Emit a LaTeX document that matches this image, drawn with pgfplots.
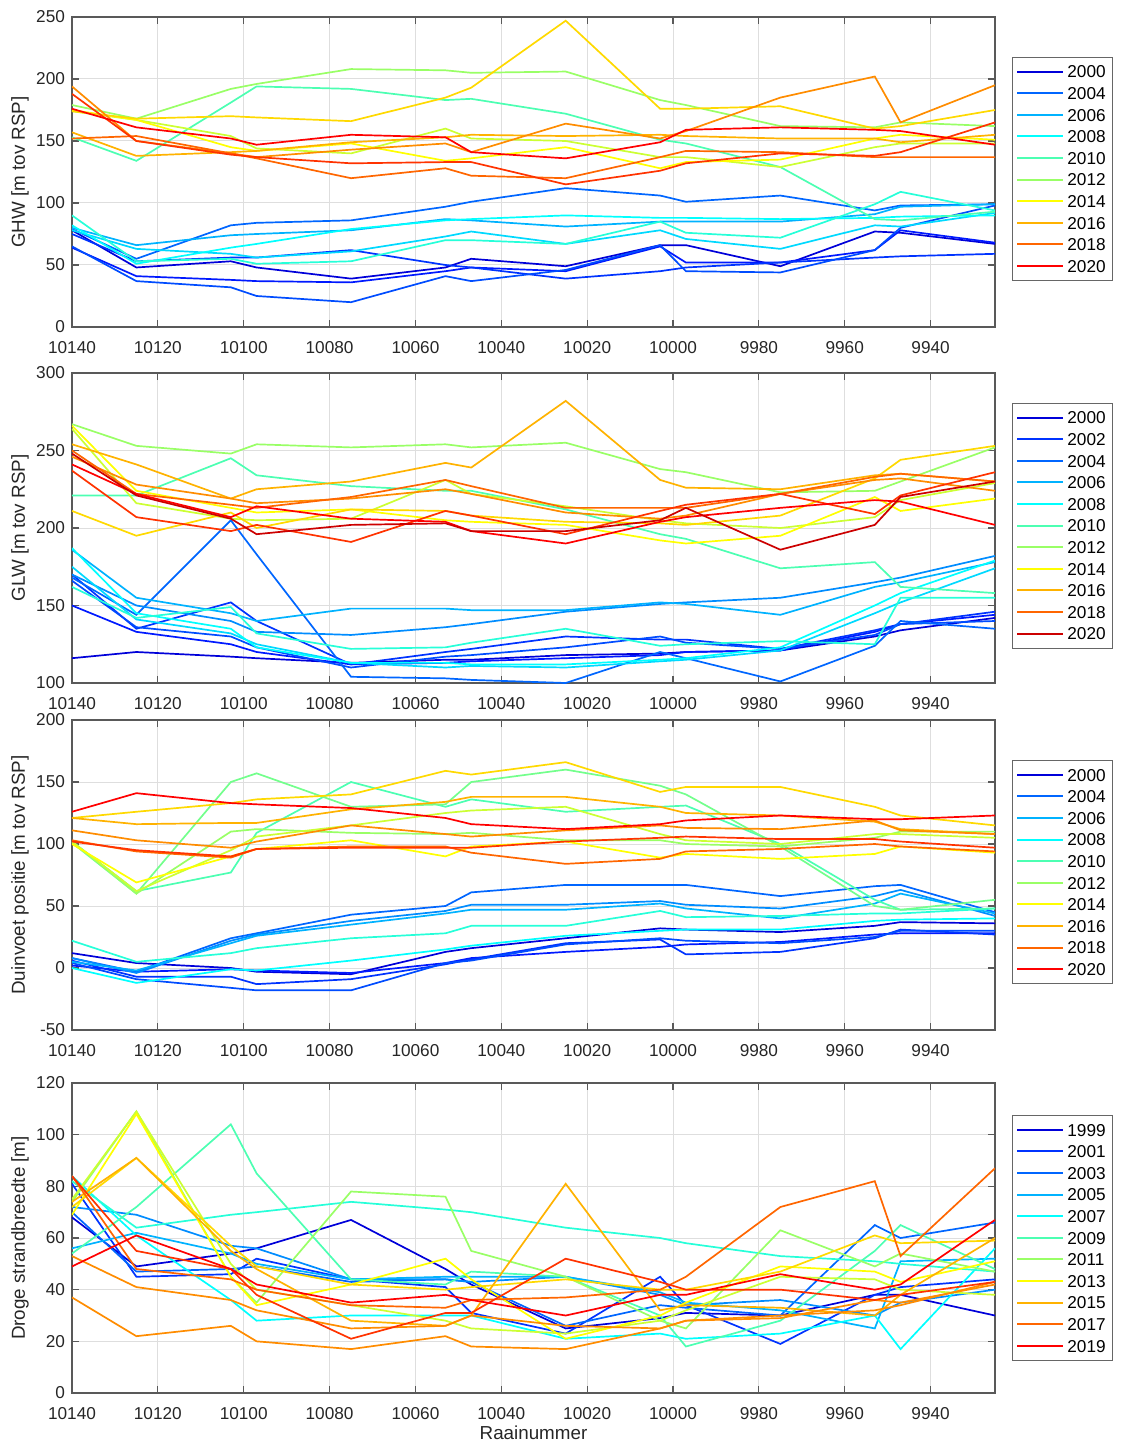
\documentclass[border=0pt]{standalone}
\usepackage{fontspec}
\setmainfont{Liberation Sans}
\usepackage{pgfplots}
\usepackage{pgfplotstable}
\pgfplotsset{compat=1.18}

% jet-like colour ramp, index 0 (dark blue) .. 20 (red)
\definecolor{c0}{rgb}{0,0,0.85}
\definecolor{c1}{rgb}{0,0.1,1}
\definecolor{c2}{rgb}{0,0.2,1}
\definecolor{c3}{rgb}{0,0.3,1}
\definecolor{c4}{rgb}{0,0.4,1}
\definecolor{c5}{rgb}{0,0.55,1}
\definecolor{c6}{rgb}{0,0.7,1}
\definecolor{c7}{rgb}{0,0.85,1}
\definecolor{c8}{rgb}{0,1,1}
\definecolor{c9}{rgb}{0.15,1,0.85}
\definecolor{c10}{rgb}{0.3,1,0.7}
\definecolor{c11}{rgb}{0.45,1,0.55}
\definecolor{c12}{rgb}{0.6,1,0.4}
\definecolor{c13}{rgb}{0.8,1,0.2}
\definecolor{c14}{rgb}{1,1,0}
\definecolor{c15}{rgb}{1,0.85,0}
\definecolor{c16}{rgb}{1,0.7,0}
\definecolor{c17}{rgb}{1,0.55,0}
\definecolor{c18}{rgb}{1,0.4,0}
\definecolor{c19}{rgb}{1,0.2,0}
\definecolor{c20}{rgb}{1,0,0}
\definecolor{c21}{rgb}{0.8,0,0}

% one row per year, one column per raai
\pgfplotstableread{
s     10140 10125 10103 10097 10075 10053 10047 10025 10003 9997 9975 9953 9947 9925
a2000 78 48 53 48 39 48 55 49 66 66 49 77 76 67
a2001 64 41 38 37 36 45 48 45 65 52 52 62 78 68
a2002 75 53 56 56 62 50 48 39 45 48 52 56 57 59
a2003 65 37 32 25 20 41 37 46 66 45 44 62 80 98
a2004 79 55 82 84 86 97 101 112 106 101 106 94 98 99
a2006 80 66 74 75 78 87 86 81 85 85 85 91 97 99
a2007 78 63 59 56 61 73 77 67 78 71 63 82 81 92
a2008 82 51 64 67 79 86 87 90 88 88 87 88 89 90
a2009 90 53 55 51 53 70 70 67 85 76 72 99 109 94
a2010 153 134 181 194 192 183 184 172 151 148 129 87 86 93
a2012 179 168 192 196 208 207 205 206 183 179 162 161 165 162
a2013 174 167 154 144 140 160 152 150 137 137 129 145 148 148
a2014 175 167 145 142 148 134 136 145 128 133 135 152 155 151
a2015 174 168 170 169 166 185 193 247 176 176 178 160 162 175
a2016 157 138 141 142 149 153 155 154 155 154 152 152 149 155
a2017 194 150 140 137 143 148 141 164 152 158 185 202 165 195
a2018 152 154 140 136 120 128 122 120 137 142 141 137 137 137
a2019 188 150 139 137 132 133 133 115 126 132 140 138 141 165
a2020 176 161 152 147 155 153 141 136 149 159 161 159 158 147
}\ghwrows
\pgfplotstableread{
s     10140 10125 10103 10097 10075 10053 10047 10025 10003 9997 9975 9953 9947 9925
a2000 116 120 117 116 113 115 115 118 119 120 121 130 134 142
a2001 150 133 125 120 112 113 114 116 118 120 121 133 138 144
a2002 170 135 152 140 112 120 122 130 128 128 122 134 138 146
a2003 166 136 130 123 110 117 118 123 130 126 122 131 138 140
a2004 168 144 205 183 104 103 102 100 120 116 101 124 140 135
a2005 170 150 140 133 131 136 138 146 151 152 155 165 168 182
a2006 186 155 145 140 148 148 147 147 152 151 144 162 165 178
a2007 175 141 132 125 113 110 111 110 114 115 121 145 152 174
a2008 187 145 135 123 113 113 112 112 115 116 123 150 158 179
a2009 162 142 149 132 122 123 126 135 124 125 127 125 155 155
a2010 221 221 245 234 227 224 224 212 196 193 174 178 162 158
a2012 267 253 248 254 252 254 252 255 238 236 223 224 230 252
a2013 264 216 206 205 206 231 222 214 205 203 200 207 218 229
a2014 266 224 213 210 212 205 204 202 192 190 195 220 211 219
a2015 211 195 210 200 212 211 208 204 203 202 208 232 244 253
a2016 254 241 219 225 230 242 239 282 231 226 225 234 235 230
a2017 246 228 219 216 219 225 222 210 206 208 222 231 232 224
a2018 250 222 215 213 220 231 227 213 213 213 222 233 235 230
b2019 237 207 198 202 191 211 208 196 211 215 222 209 221 236
a2019 241 222 207 214 206 204 198 190 204 207 213 218 217 202
a2020 248 221 206 196 202 203 198 198 205 213 186 202 220 230
}\glwrows
\pgfplotstableread{
s     10140 10125 10103 10097 10075 10053 10047 10025 10003 9997 9975 9953 9947 9925
a2000 12 4 0 -3 -5 13 16 24 32 31 29 34 37 36
a2001 2 -3 -1 -2 -4 4 8 13 17 19 21 27 28 28
a2002 6 -7 -7 -13 -9 3 7 20 23 11 13 24 31 27
a2003 4 -9 -16 -18 -18 4 6 19 24 22 20 25 30 30
a2004 8 -3 24 28 43 50 61 67 67 67 58 66 67 45
a2005 8 -4 22 27 38 46 51 51 54 51 48 58 63 42
a2006 5 -2 20 26 35 44 47 47 52 48 40 52 60 44
a2008 0 -12 -1 -2 6 15 18 26 30 31 31 38 39 40
a2009 22 5 12 16 24 28 34 34 46 41 42 44 44 48
a2010 102 62 77 109 150 130 136 126 130 131 100 55 47 48
a2011 101 60 150 157 130 132 150 160 147 140 98 50 47 55
a2012 102 60 110 112 109 108 109 103 103 100 98 105 110 110
a2013 102 62 95 106 115 125 127 130 108 103 100 108 108 105
a2014 100 69 90 96 103 90 98 102 89 92 88 92 98 93
a2015 121 126 133 136 140 159 156 166 142 146 146 130 123 115
a2016 121 116 117 117 128 134 138 138 130 125 123 118 112 108
a2017 111 103 97 102 115 108 106 111 115 113 112 119 111 108
a2018 103 94 89 96 98 98 93 84 88 94 96 100 98 94
a2019 102 95 90 96 97 97 97 102 105 106 104 104 102 97
a2020 126 141 133 132 129 121 116 112 116 119 123 120 120 123
}\duinrows
\pgfplotstableread{
s     10140 10125 10103 10097 10075 10053 10047 10025 10003 9997 9975 9953 9947 9925
a1999 68 49 54 56 67 48 42 25 29 31 30 38 38 30
a2001 81 45 46 52 44 41 31 23 45 34 19 38 41 44
a2003 70 47 48 49 43 44 43 26 34 33 30 65 60 66
a2004 72 69 57 56 44 44 43 45 38 34 36 30 35 40
a2005 56 62 54 50 44 45 45 45 39 35 32 25 51 52
a2007 84 61 36 28 30 30 30 21 23 21 23 30 17 56
a2008 82 64 69 70 74 71 70 64 60 58 53 51 50 47
a2009 54 72 104 85 44 42 47 45 30 18 28 55 65 48
a2011 74 109 45 35 78 76 55 45 28 25 63 49 54 47
a2012 75 109 50 40 34 28 25 23 28 32 45 44 40 38
a2013 69 108 45 34 42 52 44 21 30 35 49 47 43 51
a2014 72 91 57 49 42 40 41 44 40 40 47 61 58 59
a2015 74 91 55 48 28 26 30 81 32 34 33 30 38 60
a2016 37 22 26 20 17 22 18 17 25 28 30 32 34 43
b2016 53 41 36 32 25 26 30 26 25 28 29 36 35 42
a2017 84 48 44 40 34 33 36 37 40 45 72 82 53 87
a2018 84 55 48 38 21 31 31 52 43 40 40 36 38 43
a2019 49 61 48 42 35 38 36 30 38 38 46 40 42 67
}\strandrows

% columns per year, with the raai numbers in column x
\pgfplotstabletranspose[colnames from=s, input colnames to=x]{\ghw}{\ghwrows}
\pgfplotstabletranspose[colnames from=s, input colnames to=x]{\glw}{\glwrows}
\pgfplotstabletranspose[colnames from=s, input colnames to=x]{\duin}{\duinrows}
\pgfplotstabletranspose[colnames from=s, input colnames to=x]{\strand}{\strandrows}

\newcommand{\fs}{\fontsize{8.6}{10}\selectfont}
\newcommand{\fl}{\fontsize{9.4}{11}\selectfont}

\pgfplotsset{
  raai/.style={
    scale only axis, width=461.5pt, height=155pt,
    x dir=reverse, xmin=9925, xmax=10140,
    scaled x ticks=false, scaled y ticks=false,
    xtick={10140,10120,10100,10080,10060,10040,10020,10000,9980,9960,9940},
    xticklabels={10140,10120,10100,10080,10060,10040,10020,10000,9980,9960,9940},
    grid=major, major grid style={black!13, line width=0.5pt},
    axis line style={black!65, line width=0.6pt},
    tick style={black!65, line width=0.6pt},
    tick align=inside, tick pos=both, major tick length=3.5pt,
    ticklabel style={font=\fs, text=black!85},
    xticklabel style={yshift=-3.5pt},
    label style={font=\fl, text=black!85},
    ylabel style={at={(axis description cs:-0.0563,0.5)}, anchor=center},
    every axis plot/.append style={line width=0.85pt},
    legend cell align=left,
    legend image code/.code={\draw[##1, line width=1pt] (0pt,0pt) -- (23pt,0pt);},
    legend style={anchor=north west, draw=black!60, fill=white, font=\fs,
      inner xsep=2pt, inner ysep=2.5pt, row sep=1.5pt,
      nodes={inner sep=1.5pt, text height=6.3pt, text depth=0pt}},
  }
}

\begin{document}
\begin{tikzpicture}
\path[use as bounding box] (0,0) rectangle (561pt,-721.5pt);

% ---------- GHW ----------
\begin{axis}[raai, at={(36pt,-8.5pt)}, anchor=north west,
  ymin=0, ymax=250, ytick={0,50,100,150,200,250},
  yticklabels={0,50,100,150,200,250},
  ylabel={GHW [m tov RSP]},
  legend style={at={(1.0184,0.871)}}]
\addplot[c0] table[x=x,y=a2000]{\ghw}; \addlegendentry{2000}
\addplot[c1,forget plot] table[x=x,y=a2001]{\ghw};
\addplot[c2,forget plot] table[x=x,y=a2002]{\ghw};
\addplot[c3,forget plot] table[x=x,y=a2003]{\ghw};
\addplot[c4] table[x=x,y=a2004]{\ghw}; \addlegendentry{2004}
\addplot[c6] table[x=x,y=a2006]{\ghw}; \addlegendentry{2006}
\addplot[c7,forget plot] table[x=x,y=a2007]{\ghw};
\addplot[c8] table[x=x,y=a2008]{\ghw}; \addlegendentry{2008}
\addplot[c9,forget plot] table[x=x,y=a2009]{\ghw};
\addplot[c10] table[x=x,y=a2010]{\ghw}; \addlegendentry{2010}
\addplot[c12] table[x=x,y=a2012]{\ghw}; \addlegendentry{2012}
\addplot[c13,forget plot] table[x=x,y=a2013]{\ghw};
\addplot[c14] table[x=x,y=a2014]{\ghw}; \addlegendentry{2014}
\addplot[c15,forget plot] table[x=x,y=a2015]{\ghw};
\addplot[c16] table[x=x,y=a2016]{\ghw}; \addlegendentry{2016}
\addplot[c17,forget plot] table[x=x,y=a2017]{\ghw};
\addplot[c18] table[x=x,y=a2018]{\ghw}; \addlegendentry{2018}
\addplot[c19,forget plot] table[x=x,y=a2019]{\ghw};
\addplot[c20] table[x=x,y=a2020]{\ghw}; \addlegendentry{2020}
\end{axis}

% ---------- GLW ----------
\begin{axis}[raai, at={(36pt,-186.5pt)}, anchor=north west,
  ymin=100, ymax=300, ytick={100,150,200,250,300},
  yticklabels={100,150,200,250,300},
  ylabel={GLW [m tov RSP]},
  legend style={at={(1.0184,0.9035)}}]
\addplot[c0] table[x=x,y=a2000]{\glw}; \addlegendentry{2000}
\addplot[c1,forget plot] table[x=x,y=a2001]{\glw};
\addplot[c2] table[x=x,y=a2002]{\glw}; \addlegendentry{2002}
\addplot[c3,forget plot] table[x=x,y=a2003]{\glw};
\addplot[c4] table[x=x,y=a2004]{\glw}; \addlegendentry{2004}
\addplot[c5,forget plot] table[x=x,y=a2005]{\glw};
\addplot[c6] table[x=x,y=a2006]{\glw}; \addlegendentry{2006}
\addplot[c7,forget plot] table[x=x,y=a2007]{\glw};
\addplot[c8] table[x=x,y=a2008]{\glw}; \addlegendentry{2008}
\addplot[c9,forget plot] table[x=x,y=a2009]{\glw};
\addplot[c10] table[x=x,y=a2010]{\glw}; \addlegendentry{2010}
\addplot[c12] table[x=x,y=a2012]{\glw}; \addlegendentry{2012}
\addplot[c13,forget plot] table[x=x,y=a2013]{\glw};
\addplot[c14] table[x=x,y=a2014]{\glw}; \addlegendentry{2014}
\addplot[c15,forget plot] table[x=x,y=a2015]{\glw};
\addplot[c16] table[x=x,y=a2016]{\glw}; \addlegendentry{2016}
\addplot[c17,forget plot] table[x=x,y=a2017]{\glw};
\addplot[c18] table[x=x,y=a2018]{\glw}; \addlegendentry{2018}
\addplot[c19,forget plot] table[x=x,y=b2019]{\glw};
\addplot[c20,forget plot] table[x=x,y=a2019]{\glw};
\addplot[c21] table[x=x,y=a2020]{\glw}; \addlegendentry{2020}
\end{axis}

% ---------- Duinvoet ----------
\begin{axis}[raai, at={(36pt,-360pt)}, anchor=north west,
  ymin=-50, ymax=200, ytick={-50,0,50,100,150,200},
  yticklabels={-50,0,50,100,150,200},
  ylabel={Duinvoet positie [m tov RSP]},
  legend style={at={(1.0184,0.8706)}}]
\addplot[c0] table[x=x,y=a2000]{\duin}; \addlegendentry{2000}
\addplot[c1,forget plot] table[x=x,y=a2001]{\duin};
\addplot[c2,forget plot] table[x=x,y=a2002]{\duin};
\addplot[c3,forget plot] table[x=x,y=a2003]{\duin};
\addplot[c4] table[x=x,y=a2004]{\duin}; \addlegendentry{2004}
\addplot[c5,forget plot] table[x=x,y=a2005]{\duin};
\addplot[c6] table[x=x,y=a2006]{\duin}; \addlegendentry{2006}
\addplot[c8] table[x=x,y=a2008]{\duin}; \addlegendentry{2008}
\addplot[c9,forget plot] table[x=x,y=a2009]{\duin};
\addplot[c10] table[x=x,y=a2010]{\duin}; \addlegendentry{2010}
\addplot[c11,forget plot] table[x=x,y=a2011]{\duin};
\addplot[c12] table[x=x,y=a2012]{\duin}; \addlegendentry{2012}
\addplot[c13,forget plot] table[x=x,y=a2013]{\duin};
\addplot[c14] table[x=x,y=a2014]{\duin}; \addlegendentry{2014}
\addplot[c15,forget plot] table[x=x,y=a2015]{\duin};
\addplot[c16] table[x=x,y=a2016]{\duin}; \addlegendentry{2016}
\addplot[c17,forget plot] table[x=x,y=a2017]{\duin};
\addplot[c18] table[x=x,y=a2018]{\duin}; \addlegendentry{2018}
\addplot[c19,forget plot] table[x=x,y=a2019]{\duin};
\addplot[c20] table[x=x,y=a2020]{\duin}; \addlegendentry{2020}
\end{axis}

% ---------- Droge strandbreedte ----------
\begin{axis}[raai, at={(36pt,-541.5pt)}, anchor=north west,
  ymin=0, ymax=120, ytick={0,20,40,60,80,100,120},
  yticklabels={0,20,40,60,80,100,120},
  ylabel={Droge strandbreedte [m]}, xlabel={Raainummer},
  xlabel style={at={(axis description cs:0.5,-0.128)}, anchor=center},
  legend style={at={(1.0184,0.8964)}}]
\addplot[c0] table[x=x,y=a1999]{\strand}; \addlegendentry{1999}
\addplot[c2] table[x=x,y=a2001]{\strand}; \addlegendentry{2001}
\addplot[c4] table[x=x,y=a2003]{\strand}; \addlegendentry{2003}
\addplot[c5,forget plot] table[x=x,y=a2004]{\strand};
\addplot[c6] table[x=x,y=a2005]{\strand}; \addlegendentry{2005}
\addplot[c8] table[x=x,y=a2007]{\strand}; \addlegendentry{2007}
\addplot[c9,forget plot] table[x=x,y=a2008]{\strand};
\addplot[c10] table[x=x,y=a2009]{\strand}; \addlegendentry{2009}
\addplot[c12] table[x=x,y=a2011]{\strand}; \addlegendentry{2011}
\addplot[c13,forget plot] table[x=x,y=a2012]{\strand};
\addplot[c14] table[x=x,y=a2013]{\strand}; \addlegendentry{2013}
\addplot[c15,forget plot] table[x=x,y=a2014]{\strand};
\addplot[c16] table[x=x,y=a2015]{\strand}; \addlegendentry{2015}
\addplot[c17,forget plot] table[x=x,y=a2016]{\strand};
\addplot[c17,forget plot] table[x=x,y=b2016]{\strand};
\addplot[c18] table[x=x,y=a2017]{\strand}; \addlegendentry{2017}
\addplot[c19,forget plot] table[x=x,y=a2018]{\strand};
\addplot[c20] table[x=x,y=a2019]{\strand}; \addlegendentry{2019}
\end{axis}
\end{tikzpicture}
\end{document}
